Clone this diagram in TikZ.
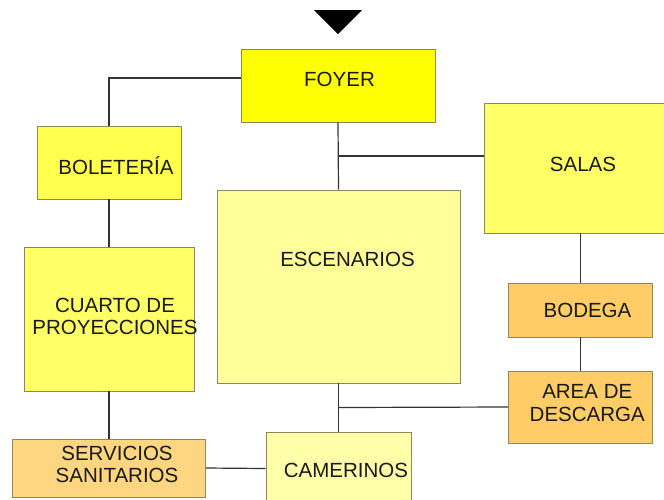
\documentclass[tikz,border=0pt]{standalone}
\usepackage{fontspec}
\setmainfont{Liberation Sans}
\usepackage{xcolor}
\usepackage{tikz}
\usetikzlibrary{calc}
\definecolor{amarillo}{HTML}{FFFF00}
\definecolor{limon}{HTML}{FFFF4D}
\definecolor{paja}{HTML}{FFFF66}
\definecolor{crema}{HTML}{FFFF99}
\definecolor{vainilla}{HTML}{FFFFAA}
\definecolor{naranja}{HTML}{FFCC66}
\definecolor{durazno}{HTML}{FFD680}
\definecolor{borde}{HTML}{8C875E}
\definecolor{linea}{HTML}{333333}

\begin{document}
\begin{tikzpicture}[
	x=1pt, y=-1pt,
	room/.style={draw=borde, line width=0.9pt, inner sep=0pt},
	txt/.style={inner sep=0pt, text=black!90, text height=14.7pt, text depth=0pt},
	txt2/.style={inner sep=0pt, text=black!90, align=center},
	link/.style={draw=linea, line width=1.2pt},
	font=\fontsize{20.5}{22.5}\selectfont]
  \useasboundingbox (0,0) rectangle (664,499);
  \clip (0,0) rectangle (664,499);
  % entrada
  \coordinate (in1) at (314,10);
  \coordinate (in2) at (362,10);
  \coordinate (in3) at (338,34);
  \fill[black] (in1) -- (in2) -- (in3) -- cycle;
  % recintos
  \node[room, fill=amarillo, minimum width=194, minimum height=73] (foyer) at (338,85.5) {};
  \node[room, fill=limon, minimum width=144, minimum height=73] (boleteria) at (109,162.5) {};
  \node[room, fill=paja, minimum width=184, minimum height=130] (salas) at (576,168) {};
  \node[room, fill=crema, minimum width=243, minimum height=193] (escenarios) at (338.5,286.5) {};
  \node[room, fill=paja, minimum width=170, minimum height=144] (cuarto) at (109,319) {};
  \node[room, fill=naranja, minimum width=144, minimum height=54] (bodega) at (580.5,310) {};
  \node[room, fill=naranja, minimum width=144, minimum height=72] (area) at (580.5,407) {};
  \node[room, fill=durazno, minimum width=193, minimum height=58] (servicios) at (109,468) {};
  \node[room, fill=vainilla, minimum width=145, minimum height=73] (camerinos) at (338.5,468.5) {};
  % textos
  \node[txt] (t-foyer) at (339.5,79) {FOYER};
  \node[txt] (t-boleteria) at (116,167) {BOLETERÍA};
  \node[txt] (t-salas) at (583,164.5) {SALAS};
  \node[txt] (t-escenarios) at (347.5,259.5) {ESCENARIOS};
  \node[txt2] (t-cuarto) at (115,316.5) {CUARTO DE\\PROYECCIONES};
  \node[txt] (t-bodega) at (587.5,310) {BODEGA};
  \node[txt2] (t-area) at (587.25,403) {AREA DE\\DESCARGA};
  \node[txt2] (t-servicios) at (117,464.5) {SERVICIOS\\SANITARIOS};
  \node[txt] (t-camerinos) at (346,470) {CAMERINOS};
  % conexiones
  \coordinate (fork1) at ($(foyer.south)!0.5!(escenarios.north)$);
  \coordinate (fork2) at ($(escenarios.south)!0.5!(camerinos.north)$);
  \draw[link] ([yshift=7.5pt]foyer.west) -| (boleteria.north);
  \draw[link] (foyer.south) -- (escenarios.north);
  \draw[link] (fork1) -- (salas.west |- fork1);
  \draw[link] (boleteria.south) -- (cuarto.north);
  \draw[link] (cuarto.south) -- (servicios.north);
  \draw[link] (bodega.north |- salas.south) -- (bodega.north);
  \draw[link] (bodega.south) -- (area.north);
  \draw[link] (escenarios.south) -- (camerinos.north);
  \draw[link] (fork2) -- (area.west);
  \draw[link] (servicios.east) -- (camerinos.west);
\end{tikzpicture}
\end{document}
